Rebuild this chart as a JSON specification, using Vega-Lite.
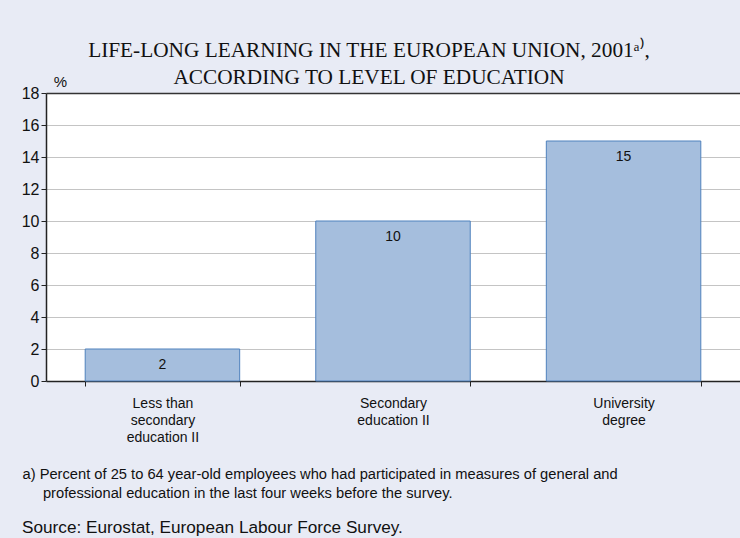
{
  "$schema": "https://vega.github.io/schema/vega-lite/v6.json",
  "width": 694,
  "height": 288,
  "autosize": {"type": "none"},
  "padding": {"left": 46, "top": 93, "right": 0, "bottom": 157},
  "background": "#e8ebf5",
  "title": {
    "text": ["LIFE-LONG LEARNING IN THE EUROPEAN UNION, 2001ᵃ⁾,", "ACCORDING TO LEVEL OF EDUCATION"],
    "font": "Liberation Serif",
    "fontSize": 21.3,
    "fontWeight": "normal",
    "color": "#111111",
    "anchor": "middle",
    "dx": -24,
    "offset": -14,
    "lineHeight": 27
  },
  "data": {
    "values": [
      {"level": "Less than secondary education II", "percent": 2},
      {"level": "Secondary education II", "percent": 10},
      {"level": "University degree", "percent": 15}
    ]
  },
  "encoding": {
    "x": {
      "field": "level",
      "type": "nominal",
      "sort": null,
      "scale": {"paddingInner": 0.33, "paddingOuter": 0.17},
      "axis": {
        "labelAngle": 0,
        "labelExpr": "datum.value == 'Less than secondary education II' ? ['Less than', 'secondary', 'education II'] : datum.value == 'Secondary education II' ? ['Secondary', 'education II'] : datum.value == 'University degree' ? ['University', 'degree'] : ''",
        "labelFont": "Liberation Sans",
        "labelFontSize": 14,
        "labelColor": "#111111",
        "labelLineHeight": 17,
        "labelPadding": 10,
        "tickBand": "extent",
        "tickSize": 5,
        "tickColor": "#222222",
        "domainColor": "#222222",
        "domainWidth": 1.5,
        "title": ["a) Percent of 25 to 64 year-old employees who had participated in measures of general and", "\u200d\u2007\u2007 professional education in the last four weeks before the survey."],
        "titleFont": "Liberation Sans",
        "titleFontSize": 14.7,
        "titleFontWeight": "normal",
        "titleColor": "#111111",
        "titleAnchor": "start",
        "titleAlign": "left",
        "titleBaseline": "alphabetic",
        "titleX": -24,
        "titleY": 97,
        "titleLineHeight": 19
      }
    },
    "y": {
      "field": "percent",
      "type": "quantitative",
      "scale": {"domain": [0, 18], "nice": false},
      "axis": {
        "values": [0, 2, 4, 6, 8, 10, 12, 14, 16, 18],
        "labelFont": "Liberation Sans",
        "labelFontSize": 16,
        "labelColor": "#111111",
        "labelPadding": 2,
        "tickSize": 5,
        "tickColor": "#222222",
        "domainColor": "#222222",
        "domainWidth": 1.5,
        "gridColor": {"condition": {"test": "datum.value == 18", "value": "#333333"}, "value": "#c4c4c4"},
        "gridWidth": {"condition": {"test": "datum.value == 18", "value": 1.5}, "value": 1},
        "title": "%",
        "titleFont": "Liberation Sans",
        "titleFontSize": 15,
        "titleFontWeight": "normal",
        "titleColor": "#111111",
        "titleAngle": 0,
        "titleAlign": "center",
        "titleBaseline": "bottom",
        "titleX": 14,
        "titleY": -4
      }
    }
  },
  "layer": [
    {
      "mark": {"type": "bar", "stroke": "#4f81bd", "strokeWidth": 1},
      "encoding": {
        "color": {
          "datum": "Life-long learning",
          "scale": {"range": ["#a5bedd"]},
          "legend": {
            "orient": "none",
            "legendX": -24,
            "legendY": 426,
            "title": "Source: Eurostat, European Labour Force Survey.",
            "titleFont": "Liberation Sans",
            "titleFontSize": 17.2,
            "titleFontWeight": "normal",
            "titleColor": "#111111",
            "titleLimit": 700,
            "labelExpr": "''",
            "symbolSize": 0,
            "symbolOpacity": 0,
            "symbolStrokeWidth": 0
          }
        }
      }
    },
    {
      "mark": {"type": "text", "baseline": "top", "dy": 9, "font": "Liberation Sans", "fontSize": 14, "color": "#111111"},
      "encoding": {"text": {"field": "percent", "type": "quantitative"}}
    }
  ],
  "config": {"view": {"stroke": null, "fill": "white"}}
}
